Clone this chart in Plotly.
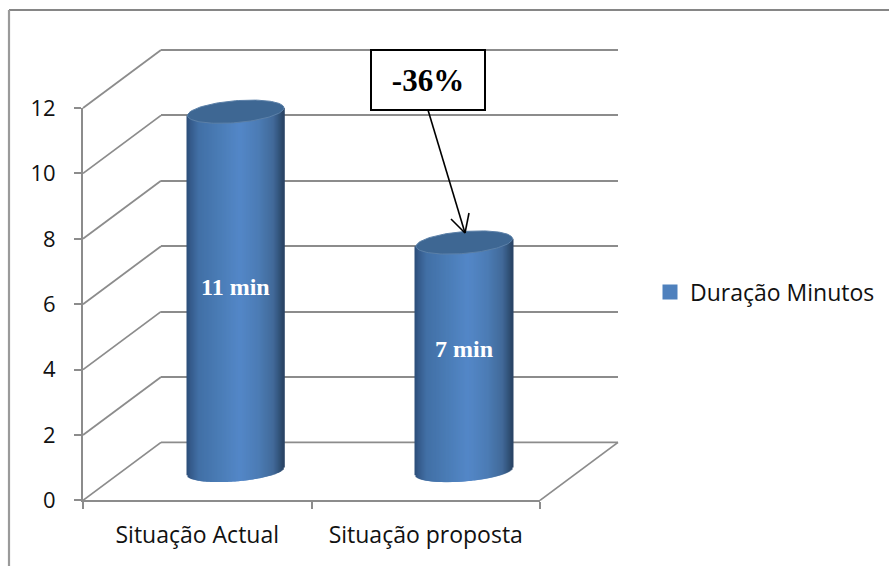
import numpy as np
import plotly.graph_objects as go

categories = ["Situação Actual", "Situação proposta"]
values = [11, 7]
series_name = "Duração Minutos"
y_ticks = [0, 2, 4, 6, 8, 10, 12]
value_labels = ["11 min", "7 min"]
label_heights = [5.65, 3.75]
callout_text = "-36%"

W, H = 889, 566
MT, MB = 25, 25
GRID = "#8C8C8C"
FONT = "Open Sans"
SERIF = "Liberation Serif"

def px(x): return x / W
def py(y): return 1 - (y - MT) / (H - MT - MB)

# front plane and depth shift of the 3-D frame, in page pixels
FX0, FX1, FY0, FY1 = 83, 540, 500.4, 108
DX, DY = 78, -58
UNIT = (FY0 - FY1) / 12
CAT_PX = (FX1 - FX0) / 2
Y3_FLOOR = -1  # the cylinders' curved bottoms dip below zero in the projection

fig = go.Figure()

# carrier of the category labels and of the legend entry
fig.add_trace(go.Scatter(x=categories, y=[None, None], name=series_name, mode="markers",
                         marker=dict(color="#4F81BD", symbol="square", size=15),
                         xaxis="x", yaxis="y", hoverinfo="skip", showlegend=True))

stops_p = [0, .04, .12, .32, .55, .75, .90, .97, 1]
stops_c = [(45, 79, 122), (54, 92, 140), (66, 112, 166), (74, 124, 181), (84, 135, 200),
           (76, 124, 180), (66, 106, 153), (48, 80, 118), (42, 68, 102)]

def grad(p):
    return "rgb(%d,%d,%d)" % tuple(np.interp(p, stops_p, [c[i] for c in stops_c]) for i in range(3))

CYL_PX = 96.5
half = CYL_PX / 2 / CAT_PX
tilt_px, lower_px, upper_px = 3.8, 10.0, 11.0
n = 97
for i, v in enumerate(values):
    t = np.linspace(-1, 1, n)
    xs = i + t * half
    base = (tilt_px * t - lower_px * np.sqrt(1 - t ** 2)) / UNIT
    top = v + tilt_px * t / UNIT
    fig.add_trace(go.Bar(x=xs.tolist(), y=(top - base).tolist(), base=base.tolist(), width=1.6 / CAT_PX,
                         marker=dict(color=[grad((a + 1) / 2) for a in t], line=dict(width=0)),
                         xaxis="x3", yaxis="y3", showlegend=False, hoverinfo="skip"))
    th = np.linspace(0, 2 * np.pi, 121)
    ex = i + half * np.cos(th)
    ey = v + (tilt_px * np.cos(th) + upper_px * np.sin(th)) / UNIT
    fig.add_trace(go.Scatter(x=ex.tolist(), y=ey.tolist(), mode="lines", fill="toself", fillcolor="#3E6793",
                             line=dict(color="#5C80A8", width=1),
                             xaxis="x3", yaxis="y3", showlegend=False, hoverinfo="skip"))

shapes = []
def seg(x0, y0, x1, y1, color=GRID, width=1.8):
    shapes.append(dict(type="line", xref="paper", yref="paper", x0=px(x0), y0=py(y0), x1=px(x1), y1=py(y1),
                       line=dict(color=color, width=width), layer="below"))

# chart frame
seg(9, 10, W, 10, "#868686", 2.2)
seg(9, 10, 9, H, "#9A9A9A", 2.2)
# walls: diagonals joining the side axis to the back wall, floor edge and top edge of the back wall
for v in y_ticks:
    yf = FY0 - v * UNIT
    seg(FX0, yf, FX0 + DX, yf + DY)
seg(FX1, FY0, FX1 + DX, FY0 + DY)
seg(FX0 + DX, FY0 + DY, FX1 + DX, FY0 + DY)
seg(FX0 + DX, FY1 + DY, FX1 + DX, FY1 + DY)

# arrow of the call-out
tip = (465, 233)
seg(428, 110, tip[0], tip[1], "black", 1.6)
seg(451, 219, tip[0], tip[1], "black", 1.6)
seg(469, 213, tip[0], tip[1], "black", 1.6)
for s in shapes[-3:]:
    s["layer"] = "above"

annotations = [
    dict(xref="x3", yref="y3", x=i, y=h, text=t, showarrow=False,
         font=dict(family=SERIF, size=24, color="white", weight="bold"))
    for i, (t, h) in enumerate(zip(value_labels, label_heights))
]
annotations.append(dict(xref="paper", yref="paper", x=px(428), y=py(80), xanchor="center", yanchor="middle",
                        text=callout_text, showarrow=False,
                        width=112, height=58, bgcolor="white", bordercolor="black", borderwidth=2, borderpad=0,
                        font=dict(family=SERIF, size=31, color="black", weight="bold")))

x_font = dict(family=FONT, size=23, color="#111111")
y_font = dict(family=FONT, size=22, color="#111111")
fig.update_layout(
    width=W, height=H, autosize=False,
    margin=dict(l=0, r=0, t=MT, b=MB),
    paper_bgcolor="white", plot_bgcolor="rgba(0,0,0,0)",
    barmode="overlay",
    shapes=shapes, annotations=annotations,
    legend=dict(x=px(650), y=py(292), xanchor="left", yanchor="middle",
                font=x_font, bgcolor="rgba(0,0,0,0)", itemsizing="trace"),
    xaxis=dict(domain=[px(FX0), px(FX1)], anchor="y", type="category", categoryorder="array",
               categoryarray=categories, range=[-0.5, 1.5], tickson="boundaries", ticks="outside", ticklen=7,
               tickangle=0, tickwidth=1.8, tickcolor=GRID, showline=True, linecolor=GRID, linewidth=1.8,
               showgrid=False, zeroline=False, tickfont=x_font, ticklabelstandoff=13),
    yaxis=dict(domain=[py(FY0), py(FY1)], anchor="x", range=[0, 12], tickvals=y_ticks, ticks="outside", ticklen=7,
               tickwidth=1.8, tickcolor=GRID, showline=True, linecolor=GRID, linewidth=1.8, showgrid=False,
               zeroline=False, tickfont=y_font, ticklabelstandoff=14),
    # back wall: horizontal gridlines
    xaxis2=dict(domain=[px(FX0 + DX), px(FX1 + DX)], anchor="y2", range=[0, 1], visible=False),
    yaxis2=dict(domain=[py(FY0 + DY), py(FY1 + DY)], anchor="x2", range=[0, 12], tickvals=y_ticks, showgrid=True,
                gridcolor=GRID, gridwidth=1.8, showline=False, ticks="", showticklabels=False, zeroline=False),
    # mid-depth plane carrying the cylinders
    xaxis3=dict(domain=[px(FX0 + 38.5), px(FX1 + 38.5)], anchor="y3", range=[-0.5, 1.5], visible=False),
    yaxis3=dict(domain=[py(FY0 + DY / 2 - Y3_FLOOR * UNIT), py(FY1 + DY / 2)], anchor="x3",
                range=[Y3_FLOOR, 12], visible=False),
)
# give the back-wall axes something to plot so that they are drawn
fig.add_trace(go.Scatter(x=[0, 1], y=[0, 12], mode="none", xaxis="x2", yaxis="y2", showlegend=False, hoverinfo="skip"))

fig.write_html("out.html", config={"displayModeBar": False}, post_script="document.body.style.margin='0';")
